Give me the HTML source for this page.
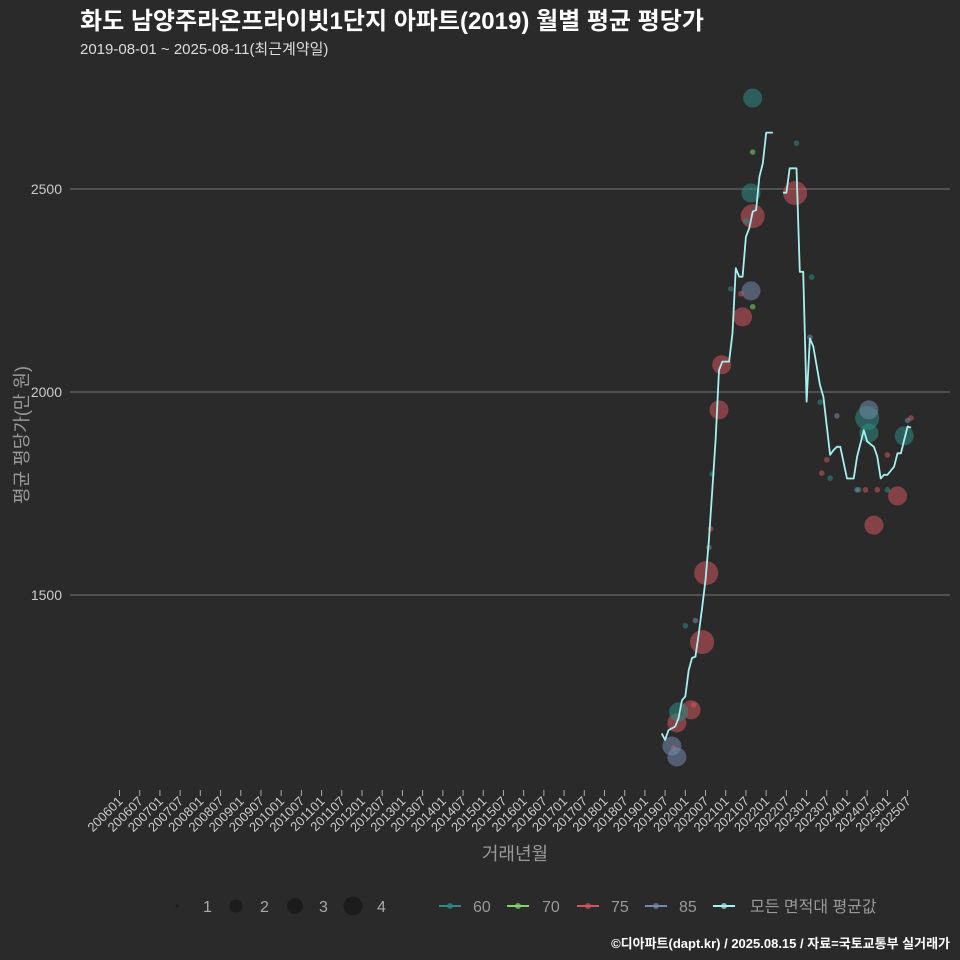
<!DOCTYPE html>
<html><head><meta charset="utf-8">
<style>
html,body{margin:0;padding:0;background:#2b2a2a;}
svg{display:block;font-family:"Liberation Sans","Noto Sans CJK KR",sans-serif;}
#ytitle{position:absolute;left:22px;top:435px;transform:translate(-50%,-50%) rotate(-90deg);white-space:nowrap;font-family:"Liberation Sans","Noto Sans CJK KR",sans-serif;font-size:18px;color:#999999;line-height:20px;}
</style></head>
<body>
<svg id="chart" width="960" height="960" viewBox="0 0 960 960">
<rect x="0" y="0" width="960" height="960" fill="#2b2a2a"/>
<text x="80" y="29" font-size="24" font-weight="bold" fill="#ffffff">화도 남양주라온프라이빗1단지 아파트(2019) 월별 평균 평당가</text>
<text x="80" y="54" font-size="15" fill="#dddddd">2019-08-01 ~ 2025-08-11(최근계약일)</text>
<g id="grid"></g>
<g id="yaxis"></g>
<g id="xaxis"></g>
<g id="bubbles"></g>
<g id="line"></g>
<text x="515" y="860" font-size="18" fill="#999999" text-anchor="middle">거래년월</text>
<g>
<circle cx="177" cy="906" r="1.5" fill="#1c1c1c"/>
<text x="203" y="912" font-size="16" fill="#aaaaaa">1</text>
<circle cx="236" cy="906" r="6.5" fill="#1c1c1c"/>
<text x="260" y="912" font-size="16" fill="#aaaaaa">2</text>
<circle cx="295" cy="906" r="8" fill="#1c1c1c"/>
<text x="319" y="912" font-size="16" fill="#aaaaaa">3</text>
<circle cx="353" cy="906" r="9.5" fill="#1c1c1c"/>
<text x="377" y="912" font-size="16" fill="#aaaaaa">4</text>
</g>
<g id="clegend"></g>
<text x="950" y="948" font-size="13" font-weight="bold" fill="#ffffff" text-anchor="end">©디아파트(dapt.kr) / 2025.08.15 / 자료=국토교통부 실거래가</text>
</svg>
<div id="ytitle">평균 평당가(만 원)</div>
<script>
const yTicks=[1500,2000,2500];
const xTickLabels=[];
for(let y=2006;y<=2025;y++){xTickLabels.push(y+"01");xTickLabels.push(y+"07");}
// line: month index since 2006-01, average value (null = gap)
const lineMonths=[161,162,163,165,166,167,168,169,170,171,172,173,174,175,176,177,178,179,181,182,183,184,185,186,187,188,189,190,191,192,194,195,197,198,199,201,202,203,204,205,206,208,209,211,212,213,214,216,218,219,221,222,224,225,226,227,228,230,231,232,233,234,235];
const lineValues=[1159,1143,1167,1176,1197,1241,1250,1315,1345,1348,1406,1470,1537,1635,1759,1882,2054,2075,2075,2145,2305,2284,2284,2382,2404,2444,2448,2530,2563,2639,2639,null,2491,2491,2551,2551,2296,2296,1976,2132,2112,2017,1988,1845,1857,1865,1865,1787,1787,1841,1906,1878,1865,1841,1787,1796,1796,1816,1849,1849,1882,1915,1912];
// bubbles
const bubbleMonths=[174.2,173,188,200.6,178,178.8,185,169.7,165.5,224,231,170.5,164.5,175.5,184.5,208.5,210,221.5,225,228,235,188,187.5,166,222,222.5,233,201,176,186,181.5,168,208,211,219.5,228,205.5,187.5,164,165.5,205,213,219,222.5,171,175,234,188,188];
const bubbleValues=[1554,1384,2433,2490,1956,2067,2185,1217,1185,1672,1744,1229,1123,1663,2242,1800,1833,1759,1759,1845,1936,2724,2490,1212,1936,1899,1892,2613,1798,2421,2254,1424,1975,1788,1759,1759,2283,2249,1128,1101,2135,1941,1759,1956,1437,1617,1930,2210,2591];
const bubbleSizes=[4,4,4,4,3,3,3,3,3,3,3,1,1,1,1,1,1,1,1,1,1,3,3,3,4,3,3,1,1,1,1,1,1,1,1,1,1,3,3,3,1,1,1,3,1,1,1,1,1];
const bubbleAreas=[75,75,75,75,75,75,75,75,75,75,75,75,75,75,75,75,75,75,75,75,75,60,60,60,60,60,60,60,60,60,60,60,60,60,60,60,60,85,85,85,85,85,85,85,85,85,85,70,70];
const areaCats=[60,70,75,85];
const areaColors={60:"#2d8a84",70:"#7fd46a",75:"#d0565c",85:"#7488aa"};
const sizeR={1:2.8,2:7,3:9.5,4:12};

const NS="http://www.w3.org/2000/svg";
function xm(m){return 119.5+m*3.368;}
function yv(v){return 392-(v-2000)*0.406;}
function mk(tag,attrs,parent){const e=document.createElementNS(NS,tag);for(const k in attrs)e.setAttribute(k,attrs[k]);parent.appendChild(e);return e;}

const grid=document.getElementById('grid'),yax=document.getElementById('yaxis'),xax=document.getElementById('xaxis');
yTicks.forEach(t=>{
  const l=mk('line',{x1:70,x2:950,y1:yv(t),y2:yv(t),stroke:'#777777','stroke-width':1},grid);
  
  
  const tx=mk('text',{x:62,y:yv(t)+5,'font-size':14,fill:'#cccccc','text-anchor':'end'},yax);
  tx.textContent=t;
  
  
});
xTickLabels.forEach((lab,i)=>{
  const x=xm(i*6);
  const tk=mk('line',{x1:x,x2:x,y1:790,y2:796,stroke:'#aaaaaa','stroke-width':1},xax);
  
  
  const tx=mk('text',{transform:`translate(${x+4},802) rotate(-45)`,'font-size':13,fill:'#cccccc','text-anchor':'end'},xax);
  tx.textContent=lab;
  
  
});
const bg=document.getElementById('bubbles');
bubbleMonths.forEach((m,i)=>{
  const c=mk('circle',{cx:xm(m),cy:yv(bubbleValues[i]),r:sizeR[bubbleSizes[i]],fill:areaColors[bubbleAreas[i]],'fill-opacity':0.55},bg);
  
  
});
const lg=document.getElementById('line');
let segs=[],cur=[];
lineMonths.forEach((m,i)=>{const v=lineValues[i];if(v===null){if(cur.length)segs.push(cur);cur=[];}else cur.push(xm(m).toFixed(1)+','+yv(v).toFixed(1));});
if(cur.length)segs.push(cur);
segs.forEach((s,i)=>{
  const p=mk('polyline',{points:s.join(' '),fill:'none',stroke:'#a8f0ec','stroke-width':1.8,'stroke-linejoin':'round'},lg);
  
  
});
const cl=document.getElementById('clegend');
const legItems=[[450,473,areaColors[60],'60'],[518,542,areaColors[70],'70'],[588,611,areaColors[75],'75'],[656,679,areaColors[85],'85'],[724,750,'#a8f0ec','모든 면적대 평균값']];
legItems.forEach(it=>{
  const g=mk('g',{},cl);
  
  
  mk('line',{x1:it[0]-11,x2:it[0]+11,y1:906,y2:906,stroke:it[2],'stroke-width':2},g);
  mk('circle',{cx:it[0],cy:906,r:3,fill:it[2],'fill-opacity':0.7},g);
  const t=mk('text',{x:it[1],y:912,'font-size':16,fill:'#999999'},g);
  t.textContent=it[3];
});
</script>
</body></html>
